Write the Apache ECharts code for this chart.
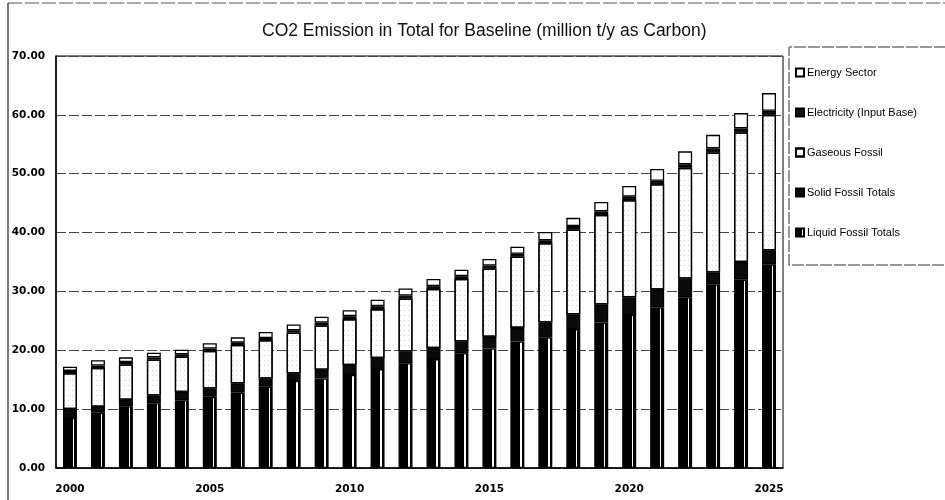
<!DOCTYPE html>
<html>
<head>
<meta charset="utf-8">
<style>
  html, body { margin: 0; padding: 0; background: #fff; }
  #chart { width: 945px; height: 500px; }
</style>
<script src="https://cdn.jsdelivr.net/npm/echarts@6/dist/echarts.min.js"></script>
</head>
<body>
<div id="chart"></div>
<script>
// Years on the category axis
const years = ['2000','2001','2002','2003','2004','2005','2006','2007','2008','2009',
  '2010','2011','2012','2013','2014','2015','2016','2017','2018','2019',
  '2020','2021','2022','2023','2024','2025'];

// Emission components, million t/y as carbon (stacked bottom to top)
const liquidFossil = [8.5, 9.4, 10.5, 11.0, 11.5, 12.1, 12.8, 13.8, 14.8, 15.2,
  15.8, 16.8, 17.8, 18.5, 19.5, 20.3, 21.5, 22.2, 23.6, 24.7,
  26.0, 27.3, 29.0, 31.2, 32.0, 34.6];
const solidFossil = [1.5, 1.0, 1.1, 1.3, 1.4, 1.4, 1.6, 1.4, 1.3, 1.5,
  1.7, 1.9, 2.0, 1.9, 2.0, 2.0, 2.3, 2.5, 2.5, 3.1,
  3.0, 3.0, 3.2, 2.0, 3.0, 2.4];
const gaseousFossil = [6.1, 6.6, 6.0, 6.1, 6.0, 6.4, 6.5, 6.5, 6.9, 7.5,
  7.8, 8.3, 9.0, 10.0, 10.6, 11.6, 12.1, 13.5, 14.4, 15.2,
  16.5, 17.9, 18.8, 20.4, 22.0, 23.0];
const electricity = [0.4, 0.4, 0.4, 0.4, 0.4, 0.4, 0.4, 0.4, 0.4, 0.5,
  0.5, 0.5, 0.5, 0.5, 0.5, 0.5, 0.5, 0.5, 0.6, 0.6,
  0.6, 0.6, 0.6, 0.7, 0.7, 0.7];
const energySector = [0.7, 0.9, 0.8, 0.8, 0.8, 0.9, 0.9, 1.0, 1.0, 1.0,
  1.0, 1.1, 1.2, 1.2, 1.1, 1.1, 1.2, 1.4, 1.4, 1.6,
  1.8, 2.0, 2.2, 2.3, 2.6, 3.0];

// Value axis ticks
const yTicks = ['0.00','10.00','20.00','30.00','40.00','50.00','60.00','70.00'];

const chart = echarts.init(document.getElementById('chart'), null, { renderer: 'canvas' });

const border = { borderColor: '#000', borderWidth: 1.3 };

// Black fill with a thin white vertical stripe near the right edge
const liquidFill = new echarts.graphic.LinearGradient(0, 0, 1, 0, [
  { offset: 0, color: '#000' }, { offset: 0.7, color: '#000' },
  { offset: 0.7, color: '#fff' }, { offset: 0.8, color: '#fff' },
  { offset: 0.8, color: '#000' }, { offset: 1, color: '#000' }
]);

const base = { type: 'bar', stack: 'total', barWidth: '50%', animation: false };
const tickFont = { fontFamily: 'DejaVu Sans', fontSize: 10.5, fontWeight: 'bold', color: '#000' };

chart.setOption({
  backgroundColor: '#fff',
  title: {
    text: 'CO2 Emission in Total for Baseline (million t/y as Carbon)',
    left: 257, top: 17,
    textStyle: { fontFamily: 'Liberation Sans', fontSize: 17.5, fontWeight: 'normal', color: '#111' }
  },
  legend: {
    orient: 'vertical',
    left: 790, top: 62,
    itemWidth: 8, itemHeight: 8,
    itemGap: 29,
    icon: 'rect',
    data: ['Energy Sector', 'Electricity (Input Base)', 'Gaseous Fossil', 'Solid Fossil Totals', 'Liquid Fossil Totals'],
    textStyle: { fontFamily: 'Liberation Sans', fontSize: 11, color: '#000', padding: [0, 0, 0, -2] }
  },
  grid: { left: 56, right: 162, top: 56, bottom: 32, show: true, borderColor: '#000', borderWidth: 1 },
  xAxis: {
    type: 'category',
    data: years,
    axisTick: { show: false },
    axisLine: { lineStyle: { color: '#000', width: 1.5 } },
    axisLabel: Object.assign({
      interval: 0,
      margin: 16,
      formatter: v => (Number(v) % 5 === 0 ? v : '')
    }, tickFont)
  },
  yAxis: {
    type: 'value',
    min: 0, max: 70, interval: 10,
    axisLine: { show: true, lineStyle: { color: '#000', width: 1.5 } },
    axisTick: { show: false },
    axisLabel: Object.assign({
      margin: 11,
      formatter: (v, i) => yTicks[i]
    }, tickFont),
    splitLine: { lineStyle: { color: '#444', type: [10, 3], width: 1 } }
  },
  series: [
    Object.assign({}, base, { name: 'Liquid Fossil Totals', data: liquidFossil,
      itemStyle: Object.assign({ color: liquidFill }, border) }),
    Object.assign({}, base, { name: 'Solid Fossil Totals', data: solidFossil,
      itemStyle: Object.assign({ color: '#0a0a0a' }, border) }),
    Object.assign({}, base, { name: 'Gaseous Fossil', data: gaseousFossil,
      itemStyle: Object.assign({ color: '#fff',
        decal: { symbol: 'rect', symbolSize: 0.6, color: 'rgba(0,0,0,0.55)',
                 dashArrayX: [1, 3], dashArrayY: [1, 4], rotation: 0 } }, border) }),
    Object.assign({}, base, { name: 'Electricity (Input Base)', data: electricity,
      itemStyle: Object.assign({ color: '#111' }, border) }),
    Object.assign({}, base, { name: 'Energy Sector', data: energySector,
      itemStyle: Object.assign({ color: '#fff' }, border) })
  ],
  graphic: [
    // outer frame
    { type: 'line', shape: { x1: 8, y1: 3, x2: 945, y2: 3 }, style: { stroke: '#555', lineWidth: 1, lineDash: [14, 3] } },
    { type: 'line', shape: { x1: 8, y1: 3, x2: 8, y2: 500 }, style: { stroke: '#222', lineWidth: 1.2 } },
    // legend box, open to the right
    { type: 'polyline', shape: { points: [[960, 47], [789, 47], [789, 265], [960, 265]] },
      style: { fill: 'none', stroke: '#333', lineWidth: 1, lineDash: [12, 2] } }
  ]
});
</script>
</body>
</html>
